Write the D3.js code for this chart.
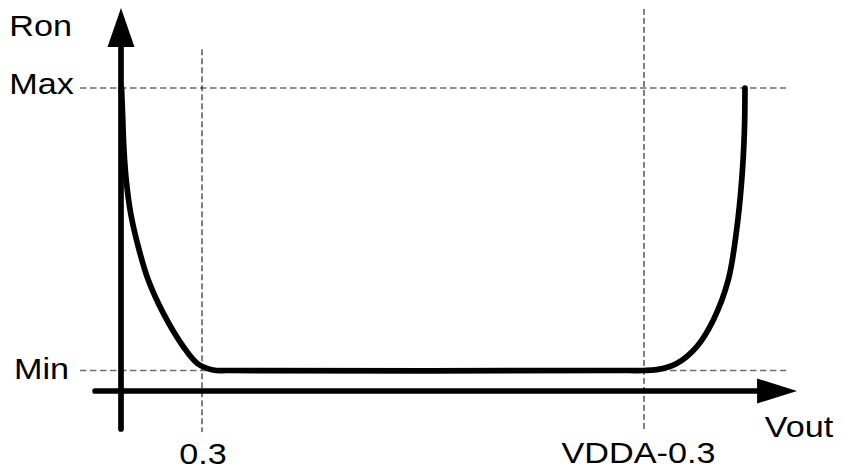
<!DOCTYPE html>
<html>
<head>
<meta charset="utf-8">
<script src="https://cdn.jsdelivr.net/npm/d3@7"></script>
<style>
  html, body { margin: 0; padding: 0; background: #fff; }
  text { font-family: "Liberation Sans", Arial, sans-serif; fill: #000; }
</style>
</head>
<body>
<div id="chart"></div>
<script>
// Curve of Ron vs Vout (Ron normalised: 0 = Min, 1 = Max).
const VDDA = 2.237;
const vout = [0.002, 0.0056, 0.0104, 0.0193, 0.036, 0.064, 0.101, 0.157, 0.231, 0.283, 0.341, 0.40,
  1.88, 1.933, 1.984, 2.058, 2.132, 2.194, 2.249, 2.280, 2.299, 2.309, 2.311];
const ron = [1.0, 0.912, 0.791, 0.674, 0.556, 0.438, 0.320, 0.202, 0.084, 0.025, 0.002, 0,
  0, 0, 0.003, 0.025, 0.084, 0.179, 0.320, 0.497, 0.674, 0.851, 1.0];

const xTickValues = [0.3, VDDA - 0.3];
const xTickLabels = ['0.3', 'VDDA-0.3'];
const yTickValues = [1, 0];
const yTickLabels = ['Max', 'Min'];

const xAxisTitle = 'Vout';
const yAxisTitle = 'Ron';

const attrs = {
  svgWidth: 843,
  svgHeight: 468,
  textScale: 1.14,
  fontSize: 30
};

const svg = d3.select('#chart').append('svg')
  .attr('width', attrs.svgWidth)
  .attr('height', attrs.svgHeight);

// Scales: Vout 0 sits on the Ron axis, Ron Min/Max on the guide lines.
const x = d3.scaleLinear().domain([0, 0.3]).range([121, 202]);
const y = d3.scaleLinear().domain([0, 1]).range([370.5, 88]);

// Guide extents (data units).
const guideX = [-0.152, 2.463];
const xAxisY = -0.0726;
const yAxisBottom = -0.207;
const yArrowTip = 1.283;
const xAxisLeft = -0.096;
const xArrowTip = 2.504;

// Horizontal dashed guides at Max / Min.
svg.append('g').selectAll('line')
  .data(yTickValues)
  .join('line')
  .attr('x1', x(guideX[0]))
  .attr('x2', x(guideX[1]))
  .attr('y1', d => y(d))
  .attr('y2', d => y(d))
  .attr('stroke', '#6e6e6e')
  .attr('stroke-width', 1.3)
  .attr('stroke-dasharray', '6.5 3.5');

// Vertical dashed guides.
const vTop = [1.137, 1.28];
svg.append('g').selectAll('line')
  .data(xTickValues)
  .join('line')
  .attr('x1', d => x(d))
  .attr('x2', d => x(d))
  .attr('y1', (d, i) => y(vTop[i]))
  .attr('y2', y(yAxisBottom - 0.011))
  .attr('stroke', '#000')
  .attr('stroke-width', 1)
  .attr('stroke-dasharray', '6 3');

// Axes.
svg.append('line')
  .attr('x1', x(0)).attr('x2', x(0))
  .attr('y1', y(yAxisBottom)).attr('y2', y(yArrowTip) + 36)
  .attr('stroke', '#000').attr('stroke-width', 5.7)
  .attr('stroke-linecap', 'round');

svg.append('path')
  .attr('d', `M${x(0)},${y(yArrowTip)} L${x(0) + 13.5},${y(yArrowTip) + 39} L${x(0) - 13.5},${y(yArrowTip) + 39} Z`)
  .attr('fill', '#000');

svg.append('line')
  .attr('x1', x(xAxisLeft)).attr('x2', x(xArrowTip) - 36)
  .attr('y1', y(xAxisY)).attr('y2', y(xAxisY))
  .attr('stroke', '#000').attr('stroke-width', 5.7)
  .attr('stroke-linecap', 'round');

svg.append('path')
  .attr('d', `M${x(xArrowTip)},${y(xAxisY)} L${x(xArrowTip) - 40},${y(xAxisY) - 12.5} L${x(xArrowTip) - 40},${y(xAxisY) + 12.5} Z`)
  .attr('fill', '#000');

// Ron curve.
const points = vout.map((v, i) => ({ x: v, y: ron[i] }));
const line = d3.line()
  .x(d => x(d.x))
  .y(d => y(d.y))
  .curve(d3.curveCatmullRom.alpha(0.5));

svg.append('path')
  .datum(points)
  .attr('d', line)
  .attr('fill', 'none')
  .attr('stroke', '#000')
  .attr('stroke-width', 5.7)
  .attr('stroke-linecap', 'round')
  .attr('stroke-linejoin', 'round');

// Labels.
function label(text, cx, baseline) {
  svg.append('text')
    .attr('transform', `translate(${cx},${baseline}) scale(${attrs.textScale},1)`)
    .attr('text-anchor', 'middle')
    .attr('font-size', attrs.fontSize)
    .text(text);
}

yTickLabels.forEach((t, i) => label(t, 41.5, y(yTickValues[i]) + (i === 0 ? 6.3 : 8.5)));
xTickLabels.forEach((t, i) => label(t, x(xTickValues[i]) - (i === 0 ? -1 : 5.5), i === 0 ? 463.5 : 462.7));
label(yAxisTitle, 40.7, 36);
label(xAxisTitle, 799, 436.7);
</script>
</body>
</html>
